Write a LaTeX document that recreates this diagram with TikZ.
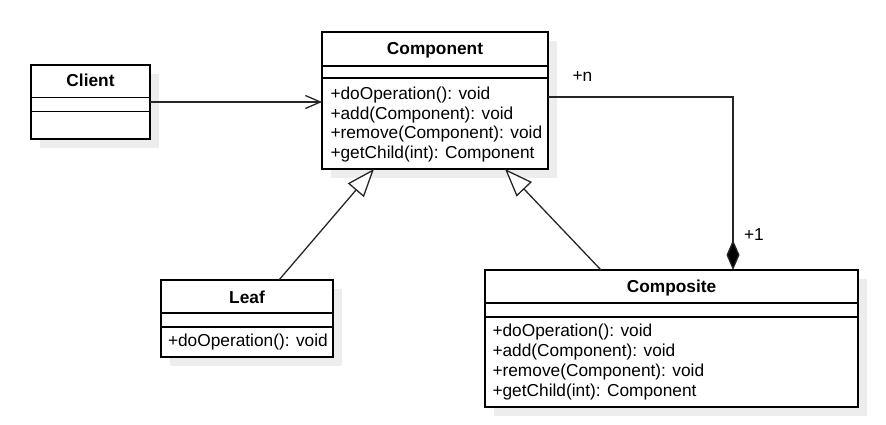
\documentclass[tikz,border=0pt]{standalone}
\usepackage{fontspec}
\setmainfont{Liberation Sans}
\usetikzlibrary{arrows.meta,shadows}
\begin{document}
\begin{tikzpicture}[x=1pt,y=-1pt,
  every node/.style={font=\fontsize{17.3}{20}\selectfont, inner sep=0pt, outer sep=0pt},
  classbox/.style={draw=black, line width=1.4pt, fill=white, rectangle,
    drop shadow={shadow xshift=9pt, shadow yshift=-9pt, fill=black!7, opacity=1}},
  sep/.style={draw=black, line width=1.4pt},
  title/.style={anchor=base, font=\fontsize{17.3}{20}\selectfont\bfseries},
  member/.style={anchor=base west},
  conn/.style={draw=black!85, line width=1.3pt, line join=miter},
  realize/.style={conn, -{Triangle[open, length=28pt, width=21pt, fill=white]}},
  assoc/.style={conn, -{Straight Barb[length=15pt, width=13pt]}},
  composition/.style={conn, -{Diamond[length=30pt, width=13pt, fill=black]}},
]
\useasboundingbox (0,0) rectangle (886,425);

% class boxes
\node[classbox, minimum width=119pt, minimum height=74pt] (client) at (90.5,102) {};
\node[classbox, minimum width=226pt, minimum height=137pt] (comp) at (435,100.5) {};
\node[classbox, minimum width=172pt, minimum height=77pt] (leaf) at (247,318.5) {};
\node[classbox, minimum width=373pt, minimum height=137pt] (composite) at (671.5,338.5) {};

% compartment separators
\draw[sep] (client.west |- 0,97.5) -- (client.east |- 0,97.5);
\draw[sep] (client.west |- 0,111.5) -- (client.east |- 0,111.5);
\draw[sep] (comp.west |- 0,66) -- (comp.east |- 0,66);
\draw[sep] (comp.west |- 0,78) -- (comp.east |- 0,78);
\draw[sep] (leaf.west |- 0,313) -- (leaf.east |- 0,313);
\draw[sep] (leaf.west |- 0,327) -- (leaf.east |- 0,327);
\draw[sep] (composite.west |- 0,303) -- (composite.east |- 0,303);
\draw[sep] (composite.west |- 0,317) -- (composite.east |- 0,317);

% class names
\node[title] (clientname) at (90.5,86.7) {Client};
\node[title] (compname) at (435,54.3) {Component};
\node[title] (leafname) at (247,303.3) {Leaf};
\node[title] (compositename) at (671.5,292.3) {Composite};

% operations
\node[member] (c1) at (330.5,100) {+doOperation(): void};
\node[member] (c2) at (330.5,119.5) {+add(Component): void};
\node[member] (c3) at (330.5,139) {+remove(Component): void};
\node[member] (c4) at (330.5,158) {+getChild(int): Component};

\node[member] (l1) at (168,346) {+doOperation(): void};

\node[member] (k1) at (492.5,336) {+doOperation(): void};
\node[member] (k2) at (492.5,356.5) {+add(Component): void};
\node[member] (k3) at (492.5,376.5) {+remove(Component): void};
\node[member] (k4) at (492.5,396.5) {+getChild(int): Component};

% relations
\draw[assoc] (client.east) -- (client.east -| comp.west);
\draw[realize] ([xshift=32pt]leaf.north) -- ([xshift=-61pt]comp.south);
\draw[realize] ([xshift=-70.5pt]composite.north) -- ([xshift=70pt]comp.south);
\draw[composition] ([yshift=3.5pt]comp.east) -| ([xshift=61.5pt]composite.north);

% multiplicities
\node[member] (many) at (572.5,81.5) {+n};
\node[member] (one) at (744,240) {+1};
\end{tikzpicture}
\end{document}
